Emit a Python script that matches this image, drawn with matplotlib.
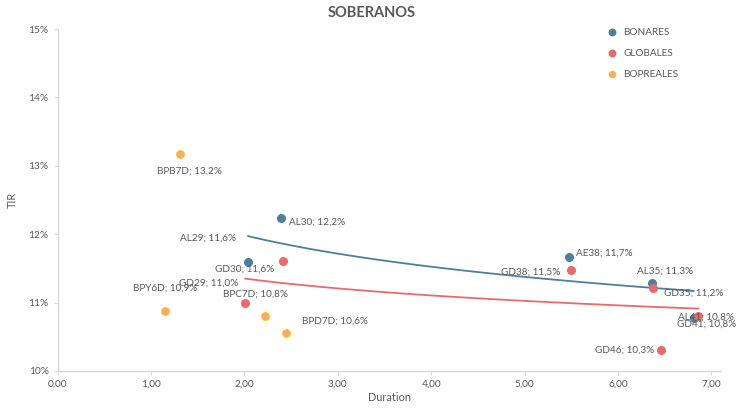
import numpy as np
import matplotlib
matplotlib.use('Agg')
import matplotlib.pyplot as plt

plt.rcParams['font.family'] = ['Lato', 'DejaVu Sans']

# BONARES
BON_NAMES = ['AL30', 'AL29', 'AE38', 'AL35', 'AL41']
BON_DUR = [2.39, 2.04, 5.48, 6.36, 6.81]
BON_TIR = [12.23, 11.59, 11.66, 11.28, 10.78]

# GLOBALES
GLO_NAMES = ['GD30', 'GD29', 'GD38', 'GD35', 'GD41', 'GD46']
GLO_DUR = [2.41, 2.01, 5.50, 6.37, 6.86, 6.46]
GLO_TIR = [11.61, 11.00, 11.48, 11.22, 10.80, 10.30]

# BOPREALES
BOP_NAMES = ['BPB7D', 'BPY6D', 'BPC7D', 'BPD7D']
BOP_DUR = [1.31, 1.15, 2.22, 2.44]
BOP_TIR = [13.17, 10.87, 10.80, 10.55]

BLUE = '#4e7f99'
RED = '#e86a6a'
ORANGE = '#f9a87e'
ORANGE_EDGE = '#ffc000'
GREY = '#595959'

# label offsets (points) and alignment per bond
LABEL_POS = {
    'AL30': (6, -3, 'left'), 'AL29': (-9, 17, 'right'), 'AE38': (5, 3, 'left'),
    'AL35': (10, 9, 'center'), 'AL41': (9, 0, 'center'),
    'GD30': (-6, -6, 'right'), 'GD29': (-5, 14, 'right'), 'GD38': (-8, -2, 'right'),
    'GD35': (8, -4, 'left'), 'GD41': (6, -6, 'center'), 'GD46': (-5, 0, 'right'),
    'BPB7D': (7, -12, 'center'), 'BPY6D': (0, 17, 'center'), 'BPC7D': (-7, 16, 'center'),
    'BPD7D': (12, 9, 'left'),
}


def log_trend(ax, x, y, color):
    x = np.array(x)
    b, a = np.polyfit(np.log(x), np.array(y), 1)
    xs = np.linspace(x.min(), x.max(), 100)
    ax.plot(xs, a + b * np.log(xs), color=color, lw=1.3, zorder=2)


def label_points(ax, names, xs, ys):
    for n, x, y in zip(names, xs, ys):
        dx, dy, ha = LABEL_POS[n]
        ax.annotate(f'{n}; {y:.1f}%'.replace('.', ','), (x, y), xytext=(dx, dy),
                    textcoords='offset points', ha=ha, va='center',
                    fontsize=7.2, color=GREY, zorder=4)


fig = plt.figure(figsize=(7.43, 4.09), dpi=100)
ax = fig.add_axes([0.0777, 0.093, 0.8923, 0.836])

ax.scatter(BON_DUR, BON_TIR, s=30, color=BLUE, label='BONARES', zorder=3)
ax.scatter(GLO_DUR, GLO_TIR, s=30, color=RED, label='GLOBALES', zorder=3)
ax.scatter(BOP_DUR, BOP_TIR, s=30, color=ORANGE, edgecolors=ORANGE_EDGE,
           linewidths=0.8, label='BOPREALES', zorder=3)

log_trend(ax, BON_DUR, BON_TIR, BLUE)
log_trend(ax, GLO_DUR, GLO_TIR, RED)

label_points(ax, BON_NAMES, BON_DUR, BON_TIR)
label_points(ax, GLO_NAMES, GLO_DUR, GLO_TIR)
label_points(ax, BOP_NAMES, BOP_DUR, BOP_TIR)

ax.set_xlim(0, 7.1)
ax.set_ylim(10, 15)
ax.set_xticks(range(0, 8))
ax.set_xticklabels([f'{i},00' for i in range(0, 8)])
ax.set_yticks(range(10, 16))
ax.set_yticklabels([f'{i}%' for i in range(10, 16)])

for s in ['top', 'right']:
    ax.spines[s].set_visible(False)
for s in ['left', 'bottom']:
    ax.spines[s].set_color('#d9d9d9')
    ax.spines[s].set_linewidth(1)
ax.tick_params(colors='#d9d9d9', labelcolor=GREY, labelsize=7.3, length=3)

ax.set_xlabel('Duration', fontsize=7.8, color=GREY, labelpad=2)
ax.set_ylabel('TIR', fontsize=7.8, color=GREY, labelpad=8)
fig.text(0.5, 0.968, 'SOBERANOS', ha='center', va='center', fontsize=10.5,
         fontweight='bold', color=GREY)

ax.legend(loc='upper left', bbox_to_anchor=(0.815, 1.015), frameon=False,
          fontsize=7.2, labelcolor=GREY, handletextpad=0.1, labelspacing=1.2,
          markerscale=0.85, borderaxespad=0)

fig.savefig('out.png', dpi=100)
